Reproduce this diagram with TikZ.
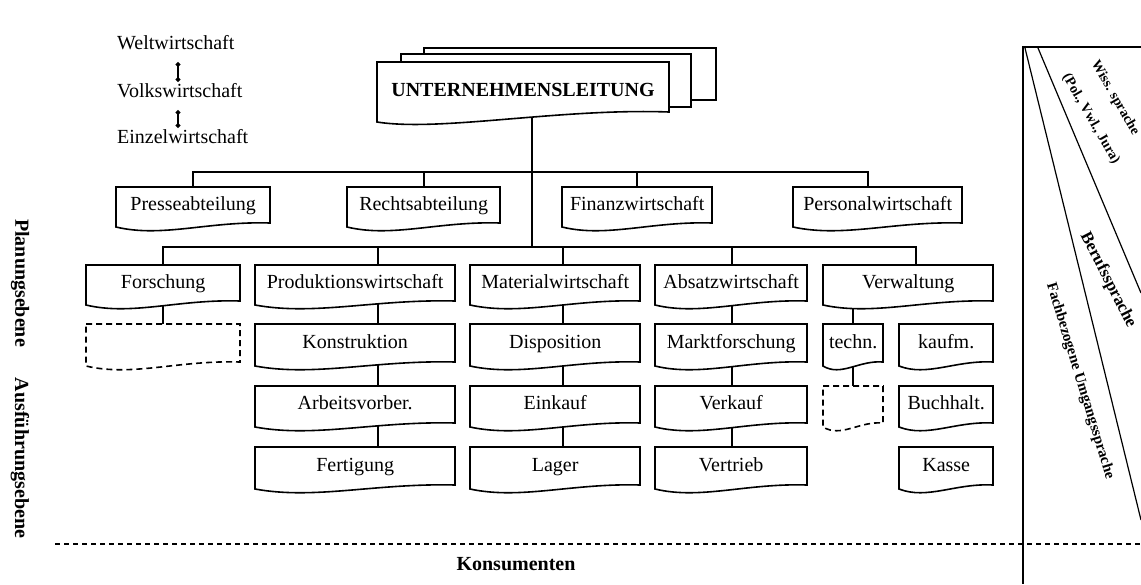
\documentclass[tikz,border=0pt]{standalone}
\usepackage{fontspec}
\setmainfont{Liberation Serif}
\usetikzlibrary{arrows.meta,backgrounds}
\tikzset{
  box/.style={draw=black, line width=1.6pt, fill=white, line join=miter},
  dbox/.style={box, dash pattern=on 6pt off 4pt},
  conn/.style={draw=black, line width=2pt},
  lbl/.style={font=\fontsize{20}{24}\selectfont, text height=14pt, text depth=4pt},
  lev/.style={draw=black, line width=1.6pt, {Circle[length=4.5pt]}-{Circle[length=4.5pt]}},
  side/.style={font=\fontsize{20}{24}\selectfont\bfseries, rotate=-90},
  lang/.style={inner sep=0pt}
}
\newcommand\docbox[7][]{%
  \draw[box,#1] (#3,#4) -- (#5,#4) -- (#5,#6)
    .. controls ({#5-0.4*(#5-#3)},{#6-2}) and ({#3+0.3*(#5-#3)},{#6+15}) .. (#3,{#6+4}) -- cycle;
  \node[lbl, inner sep=0pt, minimum width={#5pt-#3pt}, minimum height={#6pt-#4pt}, anchor=north west] (#2) at (#3,#4) {#7};
}
\begin{document}
\begin{tikzpicture}[x=1pt,y=-1pt]
\useasboundingbox (0,0) rectangle (1141,584);

% levels
\node[lbl, anchor=west, inner sep=0pt] (welt) at (117,44) {Weltwirtschaft};
\node[lbl, anchor=west, inner sep=0pt] (volk) at (117,92) {Volkswirtschaft};
\node[lbl, anchor=west, inner sep=0pt] (einz) at (117,138) {Einzelwirtschaft};
\coordinate (dx) at (178,0);
\draw[lev] ([yshift=-9pt]welt.south -| dx) -- ([yshift=1pt]volk.north -| dx);
\draw[lev] ([yshift=-9pt]volk.south -| dx) -- ([yshift=1pt]einz.north -| dx);

% main box with stacked pages
\draw[box] (424,48) rectangle (716,100);
\draw[box] (401,54) rectangle (691,107);
\draw[box] (377,62) -- (669,62) -- (669,112)
  .. controls (560,108) and (440,132) .. (377,122) -- cycle;
\node[inner sep=0pt, minimum width=292pt, minimum height=50pt, anchor=north west] (ul) at (377,62) {};
\node[lbl, font=\fontsize{20}{24}\selectfont\bfseries] (ultext) at (523,91) {UNTERNEHMENSLEITUNG};

% row 1
\docbox{pres}{116}{187}{270}{223}{Presseabteilung}
\docbox{recht}{347}{187}{500}{223}{Rechtsabteilung}
\docbox{fin}{562}{187}{712}{223}{Finanzwirtschaft}
\docbox{pers}{793}{187}{962}{223}{Personalwirtschaft}

% row 2
\docbox{forsch}{86}{265}{240}{301}{Forschung}
\docbox{prod}{255}{265}{455}{301}{Produktionswirtschaft}
\docbox{mat}{470}{265}{640}{301}{Materialwirtschaft}
\docbox{abs}{655}{265}{807}{301}{Absatzwirtschaft}
\docbox{verw}{823}{265}{993}{301}{Verwaltung}

% row 3
\docbox[dbox]{fdash}{86}{324}{240}{362}{}
\docbox{konst}{255}{324}{455}{362}{Konstruktion}
\docbox{dispo}{470}{324}{640}{362}{Disposition}
\docbox{markt}{655}{324}{807}{362}{Marktforschung}
\docbox{techn}{823}{324}{883}{362}{techn.}
\docbox{kaufm}{899}{324}{993}{362}{kaufm.}

% row 4
\docbox{arb}{255}{386}{455}{423}{Arbeitsvorber.}
\docbox{eink}{470}{386}{640}{423}{Einkauf}
\docbox{verk}{655}{386}{807}{423}{Verkauf}
\docbox[dbox]{tdash}{823}{386}{883}{423}{}
\docbox{buch}{899}{386}{993}{423}{Buchhalt.}

% row 5
\docbox{fert}{255}{447}{455}{485}{Fertigung}
\docbox{lager}{470}{447}{640}{485}{Lager}
\docbox{vertr}{655}{447}{807}{485}{Vertrieb}
\docbox{kasse}{899}{447}{993}{485}{Kasse}

% connectors
\coordinate (j1) at (532,172);
\coordinate (j2) at (532,247);
\coordinate (xP) at (378,0);
\coordinate (xM) at (563,0);
\coordinate (xA) at (732,0);
\coordinate (xV) at (916,0);
\coordinate (xPe) at (868,0);
\begin{pgfonlayer}{background}
\fill[white] (0,0) rectangle (1141,584);
\draw[conn] (ul.south -| j1) -- (j2);
\draw[conn] (pres.north) |- (xPe |- j1) -- (xPe |- pers.north);
\draw[conn] (recht.north) -- (recht.north |- j1);
\draw[conn] (fin.north) -- (fin.north |- j1);
\draw[conn] (forsch.north) |- (xV |- j2) -- (xV |- verw.north);
\draw[conn] (xP |- j2) -- (xP |- prod.north);
\draw[conn] (xM |- j2) -- (xM |- mat.north);
\draw[conn] (xA |- j2) -- (xA |- abs.north);
\draw[conn] (xP |- prod.south) -- (xP |- konst.north);
\draw[conn] (xP |- konst.south) -- (xP |- arb.north);
\draw[conn] (xP |- arb.south) -- (xP |- fert.north);
\draw[conn] (xM |- mat.south) -- (xM |- dispo.north);
\draw[conn] (xM |- dispo.south) -- (xM |- eink.north);
\draw[conn] (xM |- eink.south) -- (xM |- lager.north);
\draw[conn] (xA |- abs.south) -- (xA |- markt.north);
\draw[conn] (xA |- markt.south) -- (xA |- verk.north);
\draw[conn] (xA |- verk.south) -- (xA |- vertr.north);
\draw[conn] (forsch.south) -- (fdash.north);
\draw[conn] (verw.south -| techn.north) -- (techn.north);
\draw[conn] (techn.south) -- (tdash.north);
\end{pgfonlayer}

% side labels
\node[side] (plan) at (20,283) {Planungsebene};
\node[side] (ausf) at (20,458) {Ausführungsebene};

% consumers line
\draw[line width=1.5pt, dash pattern=on 5pt off 4pt] (55,544) -- (1141,544);
\node[lbl, font=\fontsize{20}{24}\selectfont\bfseries] (kons) at (516,565) {Konsumenten};

% language frame
\draw[line width=2.5pt] (1141,47) -- (1023,47) -- (1023,584);
\draw[line width=1.2pt] (1025,48) -- (1141,520);
\draw[line width=1.2pt] (1038,48) -- (1141,293);
\node[lang, font=\fontsize{14}{16}\selectfont\bfseries, rotate=-60] (wiss) at (1115,98) {Wiss. sprache};
\node[lang, font=\fontsize{14}{16}\selectfont\bfseries, rotate=-60] (pol) at (1091,119) {(Pol., Vwl., Jura)};
\node[lang, font=\fontsize{17}{20}\selectfont\bfseries, rotate=-63] (beruf) at (1108,280) {Berufssprache};
\node[lang, font=\fontsize{15}{18}\selectfont\bfseries, rotate=-73] (fach) at (1080,381) {Fachbezogene Umgangssprache};
\end{tikzpicture}
\end{document}
